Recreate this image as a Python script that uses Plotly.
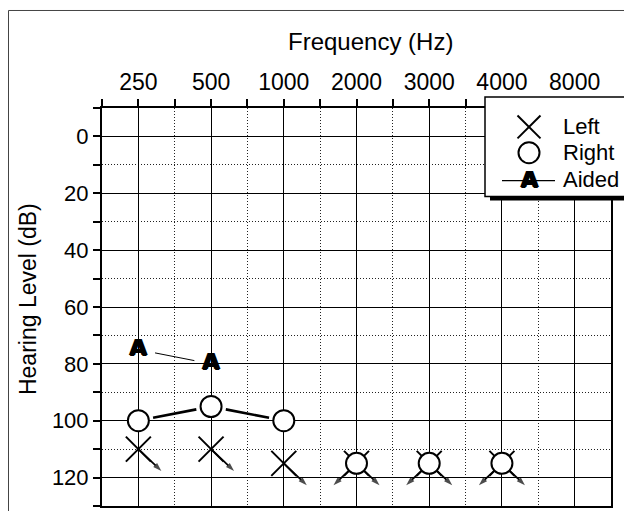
import math
import plotly.graph_objects as go

# ---------------- data ----------------
freq_labels = ["250", "500", "1000", "2000", "3000", "4000", "8000"]
left_db = [110, 110, 115, 115, 115, 115, None]
left_nr = [True, True, True, True, True, True, False]
right_db = [100, 95, 100, 115, 115, 115, None]
right_nr = [False, False, False, True, True, True, False]
aided_db = [75, 80, None, None, None, None, None]
y_tick_vals = [0, 20, 40, 60, 80, 100, 120]
legend_labels = ["Left", "Right", "Aided"]

# ---------------- geometry (screen pixels, page body has an 8px margin) ----------------
OFF = 8
W, H = 632 - OFF, 511 - OFF
ML, MT = 102 - OFF, 108 - OFF
MR = W - (611 - OFF)
MB = H - (508 - OFF)
PW, PH = W - ML - MR, H - MT - MB
X_RANGE = [-0.5, len(freq_labels) - 0.5]
Y_RANGE = [130, -10]
PX_X = PW / (X_RANGE[1] - X_RANGE[0])
PX_Y = PH / abs(Y_RANGE[0] - Y_RANGE[1])
FONT = "Arial, Liberation Sans, sans-serif"
A_FONT = dict(family="DejaVu Sans", size=22, color="black", weight="bold",
              shadow="1px 0 0 #000, -1px 0 0 #000, 0 1px 0 #000, 0 -0.5px 0 #000")
DOT = "1px,2px"


def px(xs):
    return (xs - OFF - ML) / PW


def py(ys):
    return (H - MB - (ys - OFF)) / PH


def shortened(x0, y0, x1, y1, gap):
    L = math.hypot((x1 - x0) * PX_X, (y1 - y0) * PX_Y)
    f = gap / L
    return ([x0 + (x1 - x0) * f, x1 - (x1 - x0) * f],
            [y0 + (y1 - y0) * f, y1 - (y1 - y0) * f])


fig = go.Figure()

# no-response arrows
ARROW_DX = 23 / PX_X
ARROW_DY = 22 / PX_Y


def add_arrow(x, y, sx):
    fig.add_trace(go.Scatter(
        x=[x, x + sx * ARROW_DX], y=[y, y + ARROW_DY], mode="lines+markers",
        line=dict(color="black", width=1.8),
        marker=dict(symbol=["circle", "arrow"], size=[0, 9], color="black",
                    angleref="previous", line=dict(width=0)),
        showlegend=False, hoverinfo="skip"))


for i, v in enumerate(left_db):
    if v is not None and left_nr[i]:
        add_arrow(i, v, 1)
for i, v in enumerate(right_db):
    if v is not None and right_nr[i]:
        add_arrow(i, v, -1)

# right ear connecting lines
for i in range(len(right_db) - 1):
    a, b = right_db[i], right_db[i + 1]
    if a is not None and b is not None and not right_nr[i] and not right_nr[i + 1]:
        xs, ys = shortened(i, a, i + 1, b, 15)
        fig.add_trace(go.Scatter(x=xs, y=ys, mode="lines",
                                 line=dict(color="black", width=2.6),
                                 showlegend=False, hoverinfo="skip"))

# aided connecting lines
for i in range(len(aided_db) - 1):
    a, b = aided_db[i], aided_db[i + 1]
    if a is not None and b is not None:
        xs, ys = shortened(i, a, i + 1, b, 17)
        fig.add_trace(go.Scatter(x=xs, y=ys, mode="lines",
                                 line=dict(color="black", width=1),
                                 showlegend=False, hoverinfo="skip"))

# left ear X
fig.add_trace(go.Scatter(
    x=[i for i, v in enumerate(left_db) if v is not None],
    y=[v for v in left_db if v is not None], mode="markers",
    marker=dict(symbol="x-thin", size=25, line=dict(color="black", width=2)),
    name="Left", showlegend=False))

# right ear O
fig.add_trace(go.Scatter(
    x=[i for i, v in enumerate(right_db) if v is not None],
    y=[v for v in right_db if v is not None], mode="markers",
    marker=dict(symbol="circle", size=21, color="white",
                line=dict(color="black", width=2)),
    name="Right", showlegend=False))

# aided A
fig.add_trace(go.Scatter(
    x=[i for i, v in enumerate(aided_db) if v is not None],
    y=[v for v in aided_db if v is not None], mode="text",
    text=["A" for v in aided_db if v is not None], textposition="middle center",
    textfont=A_FONT, name="Aided", showlegend=False))

# ---------------- layout ----------------
axis_common = dict(
    ticks="outside", ticklen=7, tickwidth=1.5, tickcolor="black",
    showline=True, linewidth=2, linecolor="black", mirror=True,
    showgrid=True, gridcolor="black", gridwidth=1.4, zeroline=False,
    tickfont=dict(family=FONT, size=22, color="black"),
)

fig.update_xaxes(
    range=X_RANGE, side="top", tickmode="array",
    tickvals=list(range(len(freq_labels))), ticktext=freq_labels,
    minor=dict(tickmode="array",
               tickvals=[i + 0.5 for i in range(-1, len(freq_labels))],
               ticks="outside", ticklen=7, tickwidth=1.5, tickcolor="black",
               showgrid=True, gridcolor="#222", gridwidth=1, griddash=DOT),
    **axis_common)
fig.update_xaxes(tickfont=dict(family=FONT, size=23, color="black"))

fig.update_yaxes(
    range=Y_RANGE, tickmode="array", tickvals=y_tick_vals,
    minor=dict(tickmode="array",
               tickvals=[v + 10 for v in [-20] + y_tick_vals],
               ticks="outside", ticklen=7, tickwidth=1.5, tickcolor="black",
               showgrid=True, gridcolor="#222", gridwidth=1, griddash=DOT),
    **axis_common)

shapes = [
    # outer frame
    dict(type="rect", xref="paper", yref="paper", x0=px(8.5), y0=py(10),
         x1=px(700), y1=py(600), line=dict(color="#444", width=1),
         fillcolor="rgba(0,0,0,0)", layer="above"),
    # legend shadow and box
    dict(type="rect", xref="paper", yref="paper", x0=px(490), y0=py(103),
         x1=px(640), y1=py(201), line=dict(width=0), fillcolor="black", layer="above"),
    dict(type="rect", xref="paper", yref="paper", x0=px(485), y0=py(97),
         x1=px(626), y1=py(197), line=dict(color="black", width=1.5),
         fillcolor="white", layer="above"),
    # legend X
    dict(type="line", xref="paper", yref="paper", x0=px(517.5), y0=py(115.5),
         x1=px(540.5), y1=py(138.5), line=dict(color="black", width=2), layer="above"),
    dict(type="line", xref="paper", yref="paper", x0=px(517.5), y0=py(138.5),
         x1=px(540.5), y1=py(115.5), line=dict(color="black", width=2), layer="above"),
    # legend O
    dict(type="circle", xref="paper", yref="paper", x0=px(518.5), y0=py(142.5),
         x1=px(539.5), y1=py(163.5), line=dict(color="black", width=2),
         fillcolor="white", layer="above"),
    # legend aided line
    dict(type="line", xref="paper", yref="paper", x0=px(502), y0=py(181),
         x1=px(555), y1=py(181), line=dict(color="black", width=1.2), layer="above"),
]

annotations = [
    dict(text="Frequency (Hz)", xref="paper", yref="paper", x=px(370.5), y=py(41),
         xanchor="center", yanchor="middle", showarrow=False,
         font=dict(family=FONT, size=24, color="black")),
    dict(text="Hearing Level (dB)", xref="paper", yref="paper", x=px(28), y=py(300),
         xanchor="center", yanchor="middle", showarrow=False, textangle=-90,
         font=dict(family=FONT, size=23, color="black")),
    dict(text="A", xref="paper", yref="paper", x=px(529), y=py(180),
         xanchor="center", yanchor="middle", showarrow=False, font=A_FONT),
]
for lab, ypix in zip(legend_labels, [127, 153, 180]):
    annotations.append(dict(text=lab, xref="paper", yref="paper", x=px(561), y=py(ypix),
                            xanchor="left", yanchor="middle", showarrow=False,
                            font=dict(family=FONT, size=22, color="black")))

fig.update_layout(
    width=W, height=H, margin=dict(l=ML, r=MR, t=MT, b=MB, pad=0),
    paper_bgcolor="white", plot_bgcolor="white",
    shapes=shapes, annotations=annotations, showlegend=False,
    font=dict(family=FONT, color="black"),
)

fig.write_html("out.html")
